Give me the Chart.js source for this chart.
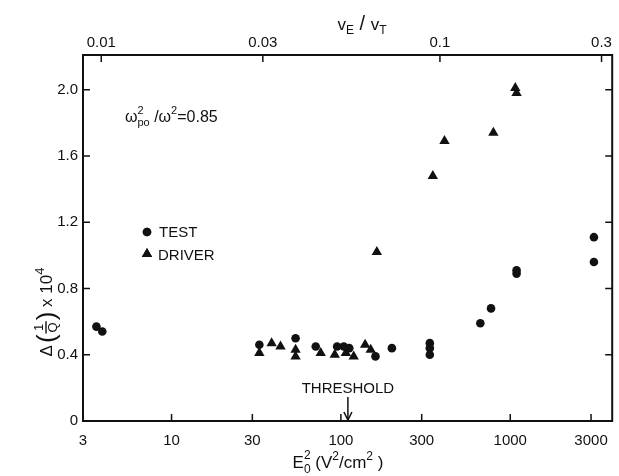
<!DOCTYPE html>
<html>
<head>
<meta charset="utf-8">
<script src="https://cdn.jsdelivr.net/npm/chart.js@4/dist/chart.umd.min.js"></script>
<style>
  html, body { margin: 0; padding: 0; background: #fff; }
  #wrap { width: 619px; height: 476px; }
</style>
</head>
<body>
<div id="wrap"><canvas id="c" width="619" height="476"></canvas></div>
<script>
// Axis ticks
const xTickValues = [3, 10, 30, 100, 300, 1000, 3000];
const xTickLabels = ['3', '10', '30', '100', '300', '1000', '3000'];
const topTickValues = [0.01, 0.03, 0.1, 0.3];
const topTickLabels = ['0.01', '0.03', '0.1', '0.3'];
const yTickValues = [0, 0.4, 0.8, 1.2, 1.6, 2.0];
const yTickLabels = ['0', '0.4', '0.8', '1.2', '1.6', '2.0'];

// Test wave: E0^2 (V^2/cm^2) and Δ(1/Q)×10^4
const testE2  = [3.6, 3.9, 33, 54, 71, 95, 104, 112, 160, 200, 335, 335, 335, 666, 770, 1090, 1090, 3120, 3120];
const testVal = [0.57, 0.54, 0.46, 0.50, 0.45, 0.45, 0.45, 0.44, 0.39, 0.44, 0.47, 0.44, 0.40, 0.59, 0.68, 0.91, 0.89, 1.11, 0.96];

// Driver wave
const driverE2  = [33, 39, 44, 54, 54, 76, 92, 107, 119, 139, 150, 163, 349, 409, 795, 1071, 1090];
const driverVal = [0.41, 0.47, 0.45, 0.43, 0.39, 0.41, 0.40, 0.41, 0.39, 0.46, 0.43, 1.02, 1.48, 1.69, 1.74, 2.01, 1.98];

const THRESHOLD_E2 = 110;
const VE_VT_PER_E = 0.0051;      // v_E/v_T = k * sqrt(E0^2)
const E2_MIN = 3, E2_MAX = 4000;
const Y_MIN = 0, Y_MAX = 2.21;

const INK = '#111';
const FONT = '"Liberation Sans", Arial, sans-serif';

const pts = (xs, ys) => xs.map((x, i) => ({ x: x, y: ys[i] }));

function labelFrom(values, labels) {
  return function (v) {
    const i = values.findIndex(t => Math.abs(t - v) / Math.max(Math.abs(t), 1e-9) < 1e-6 || (t === 0 && v === 0));
    return i >= 0 ? labels[i] : '';
  };
}

// Draws a run of text pieces with sizes and vertical offsets; pieces flagged "stack" share x with the next piece.
function richWidth(ctx, parts) {
  let w = 0, pending = 0;
  parts.forEach(p => {
    ctx.font = (p.size) + 'px ' + FONT;
    const pw = ctx.measureText(p.t).width;
    if (p.stack) { pending = Math.max(pending, pw); }
    else { w += Math.max(pending, pw); pending = 0; }
  });
  return w + pending;
}
function drawRich(ctx, parts, x, y) {
  let cx = x, pending = 0;
  ctx.textAlign = 'left';
  ctx.textBaseline = 'alphabetic';
  parts.forEach(p => {
    ctx.font = (p.size) + 'px ' + FONT;
    const pw = ctx.measureText(p.t).width;
    ctx.fillText(p.t, cx, y + (p.dy || 0));
    if (p.stack) { pending = Math.max(pending, pw); }
    else { cx += Math.max(pending, pw); pending = 0; }
  });
}

const decorations = {
  id: 'decorations',
  afterDraw(chart) {
    const ctx = chart.ctx;
    const { left, right, top, bottom } = chart.chartArea;
    const xs = chart.scales.x, xt = chart.scales.x2, ys = chart.scales.y;
    ctx.save();
    ctx.strokeStyle = INK;
    ctx.fillStyle = INK;

    // frame
    ctx.lineWidth = 2;
    ctx.strokeRect(left, top, right - left, bottom - top);

    // inward tick marks
    ctx.lineWidth = 1.5;
    ctx.beginPath();
    xTickValues.forEach(v => {
      const px = xs.getPixelForValue(v);
      if (px > left + 2 && px < right - 2) { ctx.moveTo(px, bottom); ctx.lineTo(px, bottom - 7); }
    });
    topTickValues.forEach(v => {
      const px = xt.getPixelForValue(v);
      if (px > left + 2 && px < right - 2) { ctx.moveTo(px, top); ctx.lineTo(px, top + 7); }
    });
    yTickValues.forEach(v => {
      const py = ys.getPixelForValue(v);
      if (py < bottom - 2 && py > top + 2) {
        ctx.moveTo(left, py); ctx.lineTo(left + 7, py);
        ctx.moveTo(right, py); ctx.lineTo(right - 7, py);
      }
    });
    ctx.stroke();

    // bottom axis title: E0^2 (V^2/cm^2)
    const bParts = [
      { t: 'E', size: 17 },
      { t: '2', size: 12, dy: -9, stack: true },
      { t: '0', size: 12, dy: 5 },
      { t: ' (V', size: 17 },
      { t: '2', size: 12, dy: -8 },
      { t: '/cm', size: 17 },
      { t: '2', size: 12, dy: -8 },
      { t: ' )', size: 17 }
    ];
    const bw = richWidth(ctx, bParts);
    drawRich(ctx, bParts, 338 - bw / 2, 468);

    // top axis title: vE / vT
    const tParts = [
      { t: 'v', size: 17 },
      { t: 'E', size: 12, dy: 4 },
      { t: ' / ', size: 20 },
      { t: 'v', size: 17 },
      { t: 'T', size: 12, dy: 4 }
    ];
    const tw = richWidth(ctx, tParts);
    drawRich(ctx, tParts, 362 - tw / 2, 30);

    // left axis title: Δ(1/Q) × 10^4 (rotated)
    ctx.save();
    ctx.translate(46, 312);
    ctx.rotate(-Math.PI / 2);
    ctx.textBaseline = 'alphabetic';
    const big = 26, med = 17, sml = 13;
    ctx.font = med + 'px ' + FONT;
    const wD = ctx.measureText('Δ').width;
    ctx.font = big + 'px ' + FONT;
    const wP = ctx.measureText('(').width;
    ctx.font = sml + 'px ' + FONT;
    const wF = Math.max(ctx.measureText('1').width, ctx.measureText('Q').width) + 4;
    ctx.font = med + 'px ' + FONT;
    const wX = ctx.measureText(' x 10').width;
    ctx.font = sml + 'px ' + FONT;
    const wS = ctx.measureText('4').width;
    const total = wD + 2 + wP + wF + wP + wX + wS;
    let cx = -total / 2;
    const base = 6;
    ctx.font = med + 'px ' + FONT;
    ctx.fillText('Δ', cx, base); cx += wD + 2;
    ctx.font = big + 'px ' + FONT;
    ctx.fillText('(', cx, base + 3); cx += wP;
    ctx.font = sml + 'px ' + FONT;
    ctx.textAlign = 'center';
    ctx.fillText('1', cx + wF / 2, base - 9);
    ctx.fillText('Q', cx + wF / 2, base + 5);
    ctx.lineWidth = 1.4;
    ctx.beginPath(); ctx.moveTo(cx + 1, base - 6); ctx.lineTo(cx + wF - 1, base - 6); ctx.stroke();
    ctx.textAlign = 'left';
    cx += wF;
    ctx.font = big + 'px ' + FONT;
    ctx.fillText(')', cx, base + 3); cx += wP;
    ctx.font = med + 'px ' + FONT;
    ctx.fillText(' x 10', cx, base); cx += wX;
    ctx.font = sml + 'px ' + FONT;
    ctx.fillText('4', cx, base - 8);
    ctx.restore();

    // plasma parameter note
    drawRich(ctx, [
      { t: 'ω', size: 16 },
      { t: '2', size: 11, dy: -8, stack: true },
      { t: 'po', size: 11, dy: 4 },
      { t: ' /ω', size: 16 },
      { t: '2', size: 11, dy: -8 },
      { t: '=0.85', size: 16 }
    ], 125, 122);

    // legend
    const Cds = chart.data.datasets;
    Chart.helpers.drawPoint(ctx, { pointStyle: 'circle', radius: 4.3, rotation: 0, borderWidth: 0 }, 147, 232);
    ctx.fill();
    ctx.fillStyle = INK;
    Chart.helpers.drawPoint(ctx, { pointStyle: 'triangle', radius: 6, rotation: 0, borderWidth: 0 }, 147, 254);
    ctx.fill();
    ctx.font = '15px ' + FONT;
    ctx.textBaseline = 'middle';
    ctx.textAlign = 'left';
    ctx.fillText('TEST', 159, 233);
    ctx.fillText('DRIVER', 158, 256);

    // threshold marker
    const thx = xs.getPixelForValue(THRESHOLD_E2);
    ctx.textAlign = 'center';
    ctx.fillText('THRESHOLD', thx, 389);
    ctx.lineWidth = 1.5;
    ctx.beginPath();
    ctx.moveTo(thx, 397); ctx.lineTo(thx, bottom - 1);
    ctx.stroke();
    ctx.beginPath();
    ctx.moveTo(thx - 4, bottom - 9); ctx.lineTo(thx, bottom - 1); ctx.lineTo(thx + 4, bottom - 9);
    ctx.stroke();

    ctx.restore();
  }
};

new Chart(document.getElementById('c'), {
  type: 'scatter',
  data: {
    datasets: [
      {
        label: 'TEST',
        data: pts(testE2, testVal),
        pointStyle: 'circle',
        pointRadius: 4.3,
        backgroundColor: INK,
        borderColor: INK,
        borderWidth: 0,
        xAxisID: 'x', yAxisID: 'y'
      },
      {
        label: 'DRIVER',
        data: pts(driverE2, driverVal),
        pointStyle: 'triangle',
        pointRadius: 6,
        backgroundColor: INK,
        borderColor: INK,
        borderWidth: 0,
        xAxisID: 'x', yAxisID: 'y'
      }
    ]
  },
  options: {
    responsive: false,
    animation: false,
    devicePixelRatio: 1,
    layout: { padding: { right: 2, left: 0, top: 0, bottom: 0 } },
    plugins: { legend: { display: false }, tooltip: { enabled: false } },
    scales: {
      x: {
        type: 'logarithmic',
        position: 'bottom',
        min: E2_MIN, max: E2_MAX,
        grid: { display: false, drawTicks: false },
        border: { display: false },
        afterBuildTicks: s => { s.ticks = xTickValues.map(v => ({ value: v })); },
        afterFit: s => { s.height = 55; },
        ticks: {
          autoSkip: false, maxRotation: 0, padding: 11,
          color: INK, font: { family: FONT, size: 15 },
          callback: labelFrom(xTickValues, xTickLabels)
        }
      },
      x2: {
        type: 'logarithmic',
        position: 'top',
        min: VE_VT_PER_E * Math.sqrt(E2_MIN), max: VE_VT_PER_E * Math.sqrt(E2_MAX),
        grid: { display: false, drawTicks: false },
        border: { display: false },
        afterBuildTicks: s => { s.ticks = topTickValues.map(v => ({ value: v })); },
        afterFit: s => { s.height = 55; },
        ticks: {
          autoSkip: false, maxRotation: 0, padding: 3,
          color: INK, font: { family: FONT, size: 15 },
          callback: labelFrom(topTickValues, topTickLabels)
        }
      },
      y: {
        type: 'linear',
        position: 'left',
        min: Y_MIN, max: Y_MAX,
        grid: { display: false, drawTicks: false },
        border: { display: false },
        afterBuildTicks: s => { s.ticks = yTickValues.map(v => ({ value: v })); },
        afterFit: s => { s.width = 83; },
        ticks: {
          autoSkip: false, padding: 5,
          color: INK, font: { family: FONT, size: 15 },
          callback: labelFrom(yTickValues, yTickLabels)
        }
      }
    }
  },
  plugins: [decorations]
});
</script>
</body>
</html>
